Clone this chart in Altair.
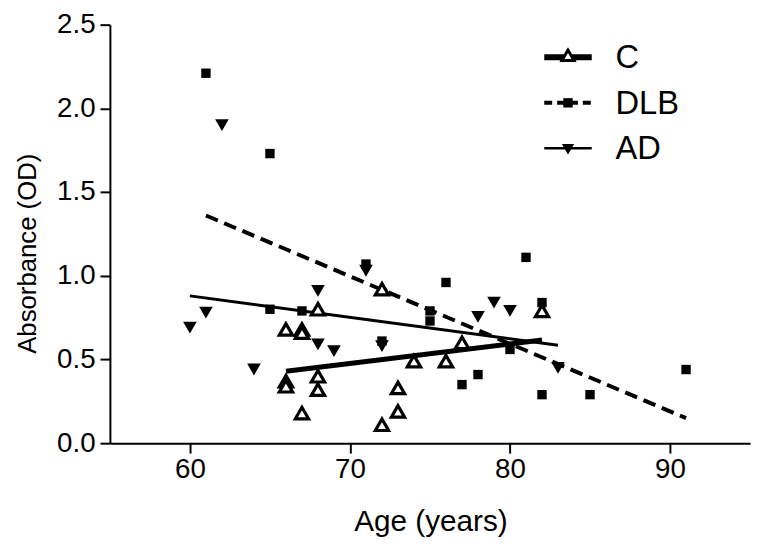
import altair as alt
import pandas as pd

# ---- data ----
series_names = ["C", "DLB", "AD"]

c_age = [66, 66, 66, 67, 67, 67, 68, 68, 68, 72, 72, 73, 73, 74, 76, 77, 82]
c_val = [0.68, 0.37, 0.34, 0.68, 0.66, 0.18, 0.80, 0.40, 0.32, 0.92, 0.11, 0.33, 0.19, 0.49, 0.49, 0.60, 0.79]

dlb_age = [61, 65, 65, 67, 71, 72, 75, 75, 76, 77, 78, 80, 81, 82, 82, 85, 91]
dlb_val = [2.21, 1.73, 0.80, 0.79, 1.07, 0.61, 0.79, 0.73, 0.96, 0.35, 0.41, 0.56, 1.11, 0.84, 0.29, 0.29, 0.44]

ad_age = [60, 61, 62, 64, 68, 68, 69, 71, 72, 78, 79, 80, 83]
ad_val = [0.69, 0.78, 1.90, 0.44, 0.91, 0.59, 0.55, 1.03, 0.58, 0.755, 0.84, 0.79, 0.45]

# fitted regression lines (end points)
fit_age_c = [66, 82]
fit_val_c = [0.43, 0.616]
fit_age_dlb = [61, 91]
fit_val_dlb = [1.36, 0.15]
fit_age_ad = [60, 83]
fit_val_ad = [0.88, 0.585]

x_ticks = [60, 70, 80, 90]
y_ticks = [0.0, 0.5, 1.0, 1.5, 2.0, 2.5]

FONT = "Liberation Sans"

def df(ages, vals, name):
    return pd.DataFrame({"age": ages, "value": vals, "group": name})

x_enc = alt.X("age:Q", scale=alt.Scale(domain=[55, 95], nice=False, zero=False),
              axis=alt.Axis(values=x_ticks, title="Age (years)", titleX=324, titleY=88,
                            titleFontSize=30, titleBaseline="alphabetic", labelPadding=3))
y_enc = alt.Y("value:Q", scale=alt.Scale(domain=[0, 2.5], nice=False),
              axis=alt.Axis(values=y_ticks, format=".1f", title="Absorbance (OD)",
                            titleFontSize=26, titleX=-83, titleY=231, titleBaseline="middle",
                            labelPadding=5))

line_c = alt.Chart(df(fit_age_c, fit_val_c, "C")).mark_line(
    color="black", strokeWidth=5, strokeCap="butt").encode(x=x_enc, y=y_enc)
line_dlb = alt.Chart(df(fit_age_dlb, fit_val_dlb, "DLB")).mark_line(
    color="black", strokeWidth=4, strokeDash=[13, 7], strokeCap="butt").encode(x="age:Q", y="value:Q")
line_ad = alt.Chart(df(fit_age_ad, fit_val_ad, "AD")).mark_line(
    color="black", strokeWidth=3, strokeCap="butt").encode(x="age:Q", y="value:Q")

pts_dlb = alt.Chart(df(dlb_age, dlb_val, "DLB")).mark_point(
    shape="square", filled=True, color="black", size=90, opacity=1).encode(x="age:Q", y="value:Q")
pts_ad = alt.Chart(df(ad_age, ad_val, "AD")).mark_point(
    shape="triangle-down", filled=True, color="black", size=190, opacity=1).encode(x="age:Q", y="value:Q")
pts_c = alt.Chart(df(c_age, c_val, "C")).mark_point(
    shape="triangle-up", filled=True, fill="white", stroke="black", strokeWidth=3.2,
    size=180, opacity=1).encode(x="age:Q", y="value:Q")

# ---- legend (drawn by hand, upper right) ----
leg_layers = []
line_styles = {
    "C": dict(strokeWidth=6),
    "DLB": dict(strokeWidth=4, strokeDash=[8, 5]),
    "AD": dict(strokeWidth=2.5),
}
for i, name in enumerate(series_names):
    row_y = 33 + i * 46
    ldf = pd.DataFrame({"series": [name]})
    leg_layers.append(alt.Chart(ldf).mark_rule(color="black", strokeCap="butt", **line_styles[name]).encode(
        x=alt.value(439), x2=alt.value(487), y=alt.value(row_y)))
    if name == "C":
        leg_layers.append(alt.Chart(ldf).mark_point(shape="triangle-up", filled=True, fill="white",
                                                    stroke="black", strokeWidth=3, size=150, opacity=1).encode(
            x=alt.value(463), y=alt.value(row_y - 2)))
    elif name == "DLB":
        leg_layers.append(alt.Chart(ldf).mark_point(shape="square", filled=True, color="black",
                                                    size=90, opacity=1).encode(
            x=alt.value(463), y=alt.value(row_y)))
    else:
        leg_layers.append(alt.Chart(ldf).mark_point(shape="triangle-down", filled=True, color="black",
                                                    size=150, opacity=1).encode(
            x=alt.value(463), y=alt.value(row_y + 1)))
    leg_layers.append(alt.Chart(ldf).mark_text(align="left", baseline="middle", font=FONT,
                                               fontSize=33, color="black").encode(
        x=alt.value(511), y=alt.value(row_y + 1), text="series:N"))

chart = alt.layer(line_c, line_dlb, line_ad, pts_dlb, pts_ad, pts_c, *leg_layers).properties(
    width=647, height=423,
    background="white",
    autosize=alt.AutoSizeParams(type="none"),
    padding={"left": 103, "top": 14, "right": 5, "bottom": 95},
).configure_view(stroke=None).configure_axis(
    grid=False, domainColor="black", domainWidth=2, tickColor="black", tickWidth=2, tickSize=10,
    labelFont=FONT, labelFontSize=28, labelColor="black",
    titleFont=FONT, titleColor="black", titleFontWeight="normal",
)

chart.save("out.html", embed_options={"renderer": "svg", "actions": False})
